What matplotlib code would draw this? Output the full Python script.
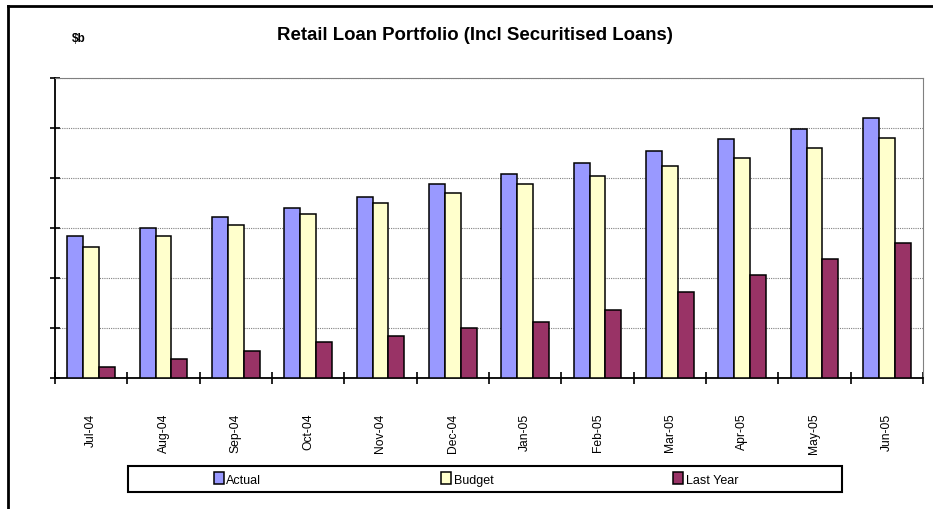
import matplotlib.pyplot as plt
import matplotlib.patches as mpatches
import numpy as np

plt.rcParams["font.family"] = ["Liberation Sans", "DejaVu Sans"]

# Monthly balances ($b)
months = ["Jul-04", "Aug-04", "Sep-04", "Oct-04", "Nov-04", "Dec-04",
          "Jan-05", "Feb-05", "Mar-05", "Apr-05", "May-05", "Jun-05"]
actual = [28.5, 30.1, 32.3, 34.1, 36.3, 38.9, 40.9, 43.1, 45.4, 47.9, 49.9, 52.1]
budget = [26.3, 28.5, 30.7, 32.9, 35.1, 37.1, 38.8, 40.5, 42.4, 44.1, 46.1, 48.1]
last_year = [2.3, 3.9, 5.5, 7.3, 8.5, 10.1, 11.3, 13.7, 17.2, 20.7, 23.8, 27.1]

fig = plt.figure(figsize=(9.33, 5.10), dpi=100)
ax = fig.add_axes([55 / 933, 131 / 510, 868 / 933, 300 / 510])

x = np.arange(len(months))
w = 0.221
ax.bar(x - w, actual, w, color="#9999FF", edgecolor="black", linewidth=1.1, label="Actual", zorder=3)
ax.bar(x, budget, w, color="#FFFFCC", edgecolor="black", linewidth=1.1, label="Budget", zorder=3)
ax.bar(x + w, last_year, w, color="#993366", edgecolor="black", linewidth=1.1, label="Last Year", zorder=3)

ax.set_xlim(-0.5, len(months) - 0.5)
ax.set_ylim(0, 60)
ax.set_yticks(np.arange(0, 61, 10))
ax.set_yticklabels([])
ax.tick_params(axis="y", direction="inout", length=7.5, width=1.2)

ax.set_xticks(x)
ax.set_xticklabels(months, rotation=90, fontsize=8.7)
ax.tick_params(axis="x", which="major", length=0, pad=25)
ax.set_xticks(np.arange(len(months) + 1) - 0.5, minor=True)
ax.tick_params(axis="x", which="minor", direction="inout", length=9, width=1.2)

ax.grid(axis="y", color="#808080", linestyle=(0, (1, 1)), linewidth=0.8, zorder=0)
ax.spines["left"].set_linewidth(1.3)
ax.spines["bottom"].set_linewidth(1.3)
ax.spines["top"].set_color("#808080")
ax.spines["right"].set_color("#808080")
ax.spines["top"].set_linewidth(0.8)
ax.spines["right"].set_linewidth(0.8)

fig.text(474.5 / 933, 1 - 36 / 510, "Retail Loan Portfolio (Incl Securitised Loans)",
         ha="center", va="center", fontsize=13.4, fontweight="bold")
fig.text(72 / 933, 1 - 39 / 510, "$b", ha="left", va="center", fontsize=8.5, fontweight="bold")

# legend box
fig.patches.append(mpatches.Rectangle((128 / 933, 1 - 493 / 510), 714 / 933, 26 / 510,
                                      transform=fig.transFigure, facecolor="white",
                                      edgecolor="black", linewidth=1.5))
fig.legend(loc="center", bbox_to_anchor=(476 / 933, 1 - 480 / 510), ncol=3,
           frameon=False, fontsize=9, handlelength=0.8, handleheight=1.1,
           handletextpad=0.2, columnspacing=14.4)

# outer chart border (left and top visible)
fig.add_artist(plt.Line2D([8 / 933, 8 / 933], [0, 1 - 7 / 510], color="black", linewidth=2,
                          transform=fig.transFigure))
fig.add_artist(plt.Line2D([8 / 933, 1], [1 - 7 / 510, 1 - 7 / 510], color="black", linewidth=2,
                          transform=fig.transFigure))

plt.savefig("out.png", dpi=100)
